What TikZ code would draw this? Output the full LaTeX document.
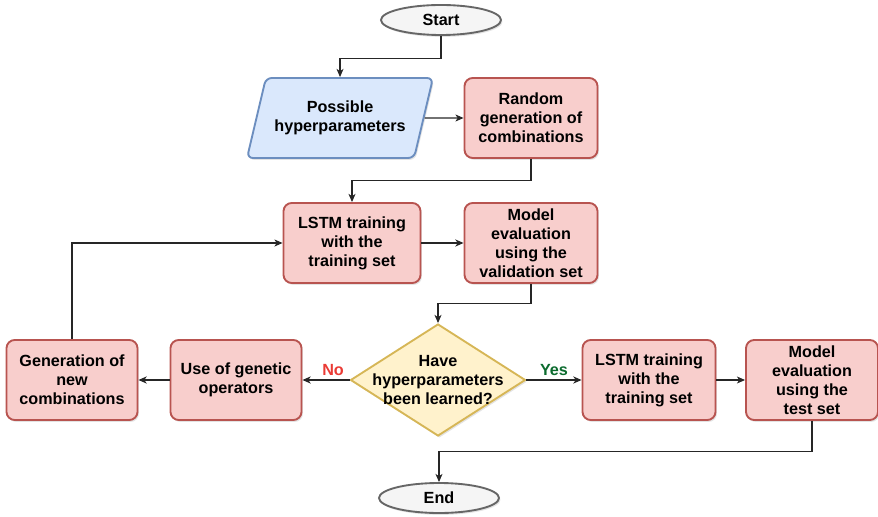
\documentclass[tikz,border=0pt]{standalone}
\usepackage{fontspec}
\setmainfont{Liberation Sans}
\usetikzlibrary{shapes.geometric,shadows,arrows.meta}

\definecolor{pinkfill}{HTML}{F8CECC}
\definecolor{pinkdraw}{HTML}{B85450}
\definecolor{bluefill}{HTML}{DAE8FC}
\definecolor{bluedraw}{HTML}{6C8EBF}
\definecolor{yellowfill}{HTML}{FFF2CC}
\definecolor{yellowdraw}{HTML}{D6B656}
\definecolor{grayfill}{HTML}{F5F5F5}
\definecolor{graydraw}{HTML}{666666}
\definecolor{nored}{HTML}{EA3B35}
\definecolor{yesgreen}{HTML}{0B6B2E}

\tikzset{
  shade/.style={drop shadow={shadow xshift=1.2pt, shadow yshift=-1.6pt, opacity=0.22}},
  base/.style={font=\bfseries\fontsize{13.8}{16.3}\selectfont, align=center, line width=1.6pt},
  terminal/.style={base, shade, ellipse, draw=graydraw, fill=grayfill,
    minimum width=3.6cm, minimum height=0.9cm, inner sep=0pt},
  inputbox/.style={base, shade, trapezium, trapezium left angle=65, trapezium right angle=115,
    trapezium stretches=true, rounded corners=5pt, draw=bluedraw, fill=bluefill,
    minimum width=5.58cm, minimum height=2.4cm, inner sep=1pt},
  process/.style={base, shade, rectangle, rounded corners=7pt, draw=pinkdraw, fill=pinkfill,
    minimum width=3.99cm, minimum height=2.4cm, inner sep=1pt},
  decision/.style={base, shade, diamond, draw=yellowdraw, fill=yellowfill,
    minimum width=5.25cm, minimum height=3.36cm, inner sep=0pt},
  arrow/.style={draw=black!85, line width=0.9pt, -{Stealth[length=7pt, width=6pt, inset=2pt]}},
  thick arrow/.style={arrow, line width=1.4pt},
  answer/.style={font=\bfseries\fontsize{13.8}{16}\selectfont, above, inner sep=3pt}
}

\begin{document}
\begin{tikzpicture}[x=0.03cm, y=-0.03cm]
\useasboundingbox (0,0) rectangle (878,517);

%% Nodes
\node[terminal] (start) at (441,20) {Start};
\node[inputbox] (hyper) at (340,118) {Possible\\hyperparameters};
\node[process] (randgen) at (531,118) {Random\\generation of\\combinations};
\node[process, minimum width=4.11cm] (lstmval) at (352,243) {LSTM training\\with the\\training set};
\node[process] (evalval) at (531,243) {Model\\evaluation\\using the\\validation set};
\node[decision] (learned) at (438,380) {};
\node[base] (learnedtext) at (learned) {Have\\hyperparameters\\been learned?};
\node[process, minimum width=3.93cm] (genetic) at (236,380) {Use of genetic\\operators};
\node[process, minimum width=3.93cm] (newcomb) at (72,380) {Generation of\\new\\combinations};
\node[process] (lstmtest) at (649,380) {LSTM training\\with the\\training set};
\node[process, minimum width=3.96cm] (evaltest) at (812,380) {Model\\evaluation\\using the\\test set};
\node[terminal] (finish) at (439,498) {End};

%% Connectors
\draw[arrow] (start.south) -- ++(0,23) -| (hyper);
\draw[arrow] (hyper.east) -- (randgen);
\draw[arrow] (randgen.south) -- ++(0,22) -| (lstmval);
\draw[thick arrow] (lstmval) -- (evalval);
\draw[arrow] (evalval.south) -- ++(0,20) -| (learned);
\draw[thick arrow] (learned) -- node[answer, text=nored, pos=0.35] (no) {No} (genetic);
\draw[thick arrow] (genetic) -- (newcomb);
\draw[arrow] (newcomb) |- (lstmval);
\draw[thick arrow] (learned) -- node[answer, text=yesgreen, pos=0.5] (yes) {Yes} (lstmtest);
\draw[arrow] (lstmtest) -- (evaltest);
\draw[arrow] (evaltest.south) -- ++(0,31) -| (finish);

\end{tikzpicture}
\end{document}
